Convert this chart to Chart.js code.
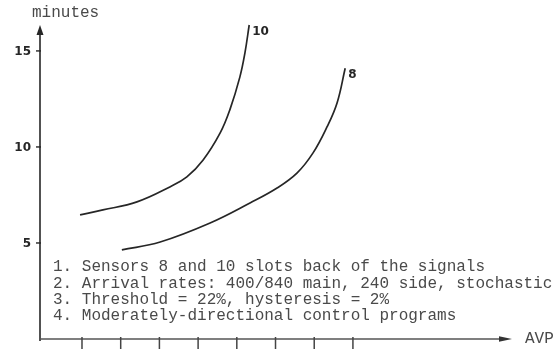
<!DOCTYPE html>
<html>
<head>
<meta charset="utf-8">
<script src="https://cdn.jsdelivr.net/npm/chart.js@4"></script>
<style>
  html, body { margin: 0; padding: 0; background: #fff; }
  #wrap { width: 559px; height: 349px; }
</style>
</head>
<body>
<div id="wrap"><canvas id="c" width="559" height="349"></canvas></div>
<script>
// Average delay (minutes) against AVP for sensor placements 8 and 10 slots back
const seriesNames = ['10', '8'];
const avp10 = [0.95, 1.54, 2.42, 3.27, 3.71, 4.13, 4.57, 4.82, 5.08, 5.21, 5.32];
const delay10 = [6.46, 6.72, 7.14, 7.92, 8.44, 9.32, 10.73, 11.93, 13.65, 14.9, 16.35];
const avp8 = [2.03, 3.02, 4.31, 5.34, 6.04, 6.56, 6.97, 7.33, 7.59, 7.80];
const delay8 = [4.64, 5.05, 6.04, 7.08, 7.86, 8.65, 9.69, 11.04, 12.29, 14.1];
const yTicks = [5, 10, 15];
const yTickLabels = ['5', '10', '15'];
const xTicks = [1, 2, 3, 4, 5, 6, 7, 8];
const yTitle = 'minutes';
const xTitle = 'AVP';
const notes = [
  '1. Sensors 8 and 10 slots back of the signals',
  '2. Arrival rates: 400/840 main, 240 side, stochastic',
  '3. Threshold = 22%, hysteresis = 2%',
  '4. Moderately-directional control programs'
];

const toPoints = (xs, ys) => xs.map((x, i) => ({ x: x, y: ys[i] }));

const INK = '#262626';
const TYPE = '#4a4a4a';
const MONO = '"Liberation Mono", "DejaVu Sans Mono", monospace';
const HAND = 'bold 12px "DejaVu Sans", sans-serif';

const axesPlugin = {
  id: 'handAxes',
  beforeDatasetsDraw(chart) {
    const ctx = chart.ctx;
    const xs = chart.scales.x, ys = chart.scales.y;
    const x0 = xs.getPixelForValue(xs.min);
    const y0 = ys.getPixelForValue(0);
    const yTop = ys.getPixelForValue(ys.max);
    const xEnd = xs.getPixelForValue(xs.max);
    ctx.save();
    ctx.strokeStyle = INK;
    ctx.fillStyle = INK;
    ctx.lineWidth = 1.6;
    // vertical axis with arrow
    ctx.beginPath();
    ctx.moveTo(x0, y0 + 2);
    ctx.lineTo(x0, yTop + 6);
    ctx.stroke();
    ctx.beginPath();
    ctx.moveTo(x0, yTop);
    ctx.lineTo(x0 - 3.5, yTop + 10);
    ctx.lineTo(x0 + 3.5, yTop + 10);
    ctx.closePath();
    ctx.fill();
    // horizontal axis with arrow
    ctx.lineWidth = 1.3;
    ctx.strokeStyle = '#555';
    ctx.beginPath();
    ctx.moveTo(x0, y0);
    ctx.lineTo(xEnd - 8, y0);
    ctx.stroke();
    ctx.fillStyle = '#333';
    ctx.beginPath();
    ctx.moveTo(xEnd, y0);
    ctx.lineTo(xEnd - 13, y0 - 2.8);
    ctx.lineTo(xEnd - 13, y0 + 2.8);
    ctx.closePath();
    ctx.fill();
    // y ticks and labels
    ctx.strokeStyle = INK;
    ctx.fillStyle = INK;
    ctx.lineWidth = 1.4;
    ctx.font = HAND;
    ctx.textAlign = 'right';
    ctx.textBaseline = 'middle';
    yTicks.forEach((v, i) => {
      const py = ys.getPixelForValue(v);
      ctx.beginPath();
      ctx.moveTo(x0 - 4, py);
      ctx.lineTo(x0 + 1, py);
      ctx.stroke();
      ctx.fillText(yTickLabels[i], x0 - 9, py + 1);
    });
    // x ticks
    ctx.lineWidth = 1.5;
    ctx.strokeStyle = '#444';
    xTicks.forEach(v => {
      const px = xs.getPixelForValue(v);
      ctx.beginPath();
      ctx.moveTo(px, y0 - 2);
      ctx.lineTo(px, y0 + 12);
      ctx.stroke();
    });
    // axis titles
    ctx.fillStyle = TYPE;
    ctx.font = '16px ' + MONO;
    ctx.textAlign = 'left';
    ctx.textBaseline = 'middle';
    ctx.fillText(yTitle, x0 - 8, yTop - 12);
    ctx.fillText(xTitle, xEnd + 13, y0);
    // notes block
    const nx = x0 + 13;
    const ny = ys.getPixelForValue(3.75);
    notes.forEach((line, i) => ctx.fillText(line, nx, ny + i * 16.3));
    ctx.restore();
  },
  afterDatasetsDraw(chart) {
    // curve labels beside the last point of each series
    const ctx = chart.ctx;
    ctx.save();
    ctx.fillStyle = INK;
    ctx.font = HAND;
    ctx.textAlign = 'left';
    ctx.textBaseline = 'middle';
    chart.data.datasets.forEach((ds, i) => {
      const meta = chart.getDatasetMeta(i);
      const last = meta.data[meta.data.length - 1];
      ctx.fillText(seriesNames[i], last.x + 3, last.y + 7);
    });
    ctx.restore();
  }
};

new Chart(document.getElementById('c'), {
  type: 'scatter',
  data: {
    datasets: [
      { label: seriesNames[0], data: toPoints(avp10, delay10) },
      { label: seriesNames[1], data: toPoints(avp8, delay8) }
    ].map(d => Object.assign(d, {
      showLine: true,
      borderColor: INK,
      borderWidth: 1.7,
      pointRadius: 0,
      tension: 0.4,
      clip: false
    }))
  },
  options: {
    responsive: false,
    devicePixelRatio: 1,
    animation: false,
    layout: { padding: { left: 40, top: 25, right: 47, bottom: 10 } },
    plugins: { legend: { display: false }, tooltip: { enabled: false } },
    scales: {
      x: { type: 'linear', min: -0.085, max: 12.11, display: false },
      y: { type: 'linear', min: 0, max: 16.35, display: false }
    }
  },
  plugins: [axesPlugin]
});
</script>
</body>
</html>
